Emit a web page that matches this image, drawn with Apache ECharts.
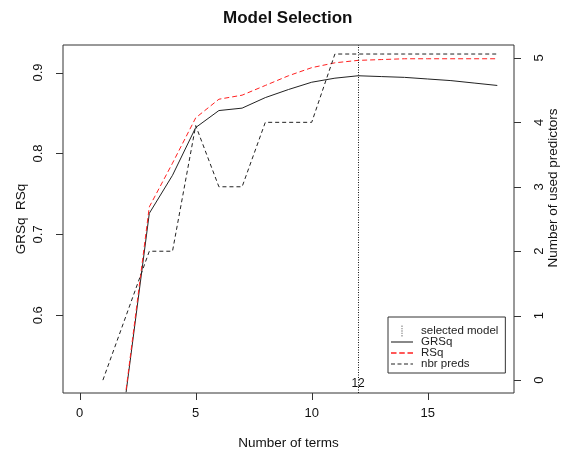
<!DOCTYPE html>
<html>
<head>
<meta charset="utf-8">
<script src="https://cdn.jsdelivr.net/npm/echarts@6/dist/echarts.min.js"></script>
<style>
  html, body { margin: 0; padding: 0; background: #fff; }
  #chart { width: 563px; height: 453px; }
</style>
</head>
<body>
<div id="chart"></div>
<script>
// number of terms in the model
var terms = [2, 3, 4, 5, 6, 7, 8, 9, 10, 11, 12, 13, 14, 15, 16, 17, 18];
var grsq = [0.505, 0.726, 0.773, 0.832, 0.853, 0.856, 0.869, 0.879, 0.888, 0.893, 0.896, 0.895, 0.894, 0.892, 0.890, 0.887, 0.884];
var rsq = [0.508, 0.734, 0.788, 0.844, 0.867, 0.872, 0.884, 0.896, 0.906, 0.912, 0.915, 0.916, 0.917, 0.917, 0.917, 0.917, 0.917];
// nbr preds starts at 1 term
var predTerms = [1, 2, 3, 4, 5, 6, 7, 8, 9, 10, 11, 12, 13, 14, 15, 16, 17, 18];
var nbrPreds = [0, 1, 2, 2, 3.95, 3, 3, 4, 4, 4, 5.06, 5.06, 5.06, 5.06, 5.06, 5.06, 5.06, 5.06];
var selectedTerms = 12;

// tick labels
var xTicks = [0, 5, 10, 15];
var yTicks = [0.6, 0.7, 0.8, 0.9];
var y2Ticks = [0, 1, 2, 3, 4, 5];

// axis ranges (R style 4% extension)
var xMin = -0.72, xMax = 18.72;
var yMin = 0.504, yMax = 0.934;
var y2Min = -0.2, y2Max = 5.2;

function pairs(xs, ys) {
  var out = [];
  for (var i = 0; i < xs.length; i++) {
    out.push([xs[i], ys[i]]);
  }
  return out;
}

var W = 563, H = 453;
var gridBox = { left: 63, right: 49, top: 45, bottom: 60 };
var gx0 = gridBox.left, gx1 = W - gridBox.right;
var gy0 = gridBox.top, gy1 = H - gridBox.bottom;

var fontFam = 'Liberation Sans, Arial, sans-serif';
var axisCol = '#333';

// outward R-style tick marks, built with the grid's linear mapping
function linX(v) { return gx0 + (v - xMin) / (xMax - xMin) * (gx1 - gx0); }
function linY(v, lo, hi) { return gy1 - (v - lo) / (hi - lo) * (gy1 - gy0); }
function crisp(p) { return Math.round(p) + 0.5; }
function buildTicks() {
  var els = [];
  var tickLen = 7;
  function tick(x1, y1, x2, y2) {
    els.push({
      type: 'line',
      silent: true,
      z: 100,
      shape: { x1: x1, y1: y1, x2: x2, y2: y2 },
      style: { stroke: axisCol, lineWidth: 1 }
    });
  }
  xTicks.forEach(function (v) {
    var px = crisp(linX(v));
    tick(px, gy1, px, gy1 + tickLen);
  });
  yTicks.forEach(function (v) {
    var py = crisp(linY(v, yMin, yMax));
    tick(gx0 - tickLen, py, gx0, py);
  });
  y2Ticks.forEach(function (v) {
    var py = crisp(linY(v, y2Min, y2Max));
    tick(gx1, py, gx1 + tickLen, py);
  });
  return els;
}

// legend icons (keepAspect keeps them as thin strokes)
var dotIcon = 'path://M0,0h1v1.6h-1zM0,2.6h1v1.6h-1zM0,5.2h1v1.6h-1zM0,7.8h1v1.6h-1zM0,10.4h1v1.6h-1z';
var solidIcon = 'path://M0,0h22v2h-22z';
var redDashIcon = 'path://M0,0h5v1.2h-5zM7.5,0h5v1.2h-5zM15,0h5v1.2h-5z';
var blackDashIcon = 'path://M0,0h4v1.2h-4zM6.5,0h4v1.2h-4zM13,0h4v1.2h-4zM19.5,0h2.5v1.2h-2.5z';

var chart = echarts.init(document.getElementById('chart'), null, { renderer: 'canvas' });

var option = {
  animation: false,
  backgroundColor: '#fff',
  graphic: { elements: buildTicks() },
  title: {
    text: 'Model Selection',
    left: 218,
    top: 5,
    textStyle: { fontFamily: fontFam, fontSize: 17, fontWeight: 'bold', color: '#111' }
  },
  grid: {
    left: gridBox.left, right: gridBox.right, top: gridBox.top, bottom: gridBox.bottom,
    show: true,
    borderColor: axisCol,
    borderWidth: 1,
    containLabel: false,
    outerBoundsMode: 'none'
  },
  legend: {
    orient: 'vertical',
    left: 388,
    top: 317,
    padding: [8, 7, 3, 3],
    borderColor: axisCol,
    borderWidth: 1,
    itemWidth: 22,
    itemHeight: 11,
    itemGap: -1,
    selectedMode: false,
    textStyle: { fontFamily: fontFam, fontSize: 11.5, color: '#222', lineHeight: 11, padding: [0, 0, 0, 3] },
    data: [
      { name: 'selected model', icon: dotIcon, itemStyle: { color: '#666' } },
      { name: 'GRSq', icon: solidIcon, itemStyle: { color: '#888' } },
      { name: 'RSq', icon: redDashIcon, itemStyle: { color: '#ff2020' } },
      { name: 'nbr preds', icon: blackDashIcon, itemStyle: { color: '#222' } }
    ]
  },
  xAxis: {
    type: 'value',
    min: xMin,
    max: xMax,
    name: 'Number of terms',
    nameLocation: 'middle',
    nameGap: 43,
    nameMoveOverlap: false,
    nameTextStyle: { fontFamily: fontFam, fontSize: 13.5, color: '#111' },
    axisLine: { show: false, onZero: false },
    axisTick: { show: false },
    axisLabel: { fontFamily: fontFam, fontSize: 13, color: '#111', margin: 14, customValues: xTicks },
    splitLine: { show: false }
  },
  yAxis: [
    {
      type: 'value',
      position: 'left',
      min: yMin,
      max: yMax,
      name: 'GRSq  RSq',
      nameLocation: 'middle',
      nameGap: 35,
      nameRotate: 90,
      nameMoveOverlap: false,
      nameTextStyle: { fontFamily: fontFam, fontSize: 13.5, color: '#111' },
      axisLine: { show: false, onZero: false },
      axisTick: { show: false },
      axisLabel: { fontFamily: fontFam, fontSize: 13, color: '#111', margin: 18, rotate: 90, customValues: yTicks,
        formatter: function (v) { return v.toFixed(1); } },
      splitLine: { show: false }
    },
    {
      type: 'value',
      position: 'right',
      min: y2Min,
      max: y2Max,
      name: 'Number of used predictors',
      nameLocation: 'middle',
      nameGap: 32,
      nameRotate: 90,
      nameMoveOverlap: false,
      nameTextStyle: { fontFamily: fontFam, fontSize: 13.5, color: '#111', padding: [0, 0, 0, 62] },
      axisLine: { show: false, onZero: false },
      axisTick: { show: false },
      axisLabel: { fontFamily: fontFam, fontSize: 13, color: '#111', margin: 19, rotate: 90, customValues: y2Ticks },
      splitLine: { show: false }
    }
  ],
  series: [
    {
      name: 'selected model',
      type: 'line',
      data: [],
      itemStyle: { color: '#666' },
      markLine: {
        silent: true,
        symbol: ['none', 'none'],
        lineStyle: { color: '#111', width: 1, type: [1, 1.5] },
        label: { show: false },
        data: [{ xAxis: selectedTerms }]
      },
      markPoint: {
        symbol: 'circle',
        symbolSize: 0,
        label: { show: true, formatter: String(selectedTerms), offset: [0, -9],
          fontFamily: fontFam, fontSize: 12, color: '#111' },
        data: [{ coord: [selectedTerms, yMin] }]
      }
    },
    {
      name: 'GRSq',
      type: 'line',
      yAxisIndex: 0,
      data: pairs(terms, grsq),
      symbol: 'none',
      itemStyle: { color: '#222' },
      lineStyle: { color: '#222', width: 1 }
    },
    {
      name: 'RSq',
      type: 'line',
      yAxisIndex: 0,
      data: pairs(terms, rsq),
      symbol: 'none',
      itemStyle: { color: '#ff2020' },
      lineStyle: { color: '#ff2020', width: 1, type: [5, 3] }
    },
    {
      name: 'nbr preds',
      type: 'line',
      yAxisIndex: 1,
      data: pairs(predTerms, nbrPreds),
      symbol: 'none',
      itemStyle: { color: '#222' },
      lineStyle: { color: '#222', width: 1, type: [4, 3] }
    }
  ]
};

chart.setOption(option);
</script>
</body>
</html>
